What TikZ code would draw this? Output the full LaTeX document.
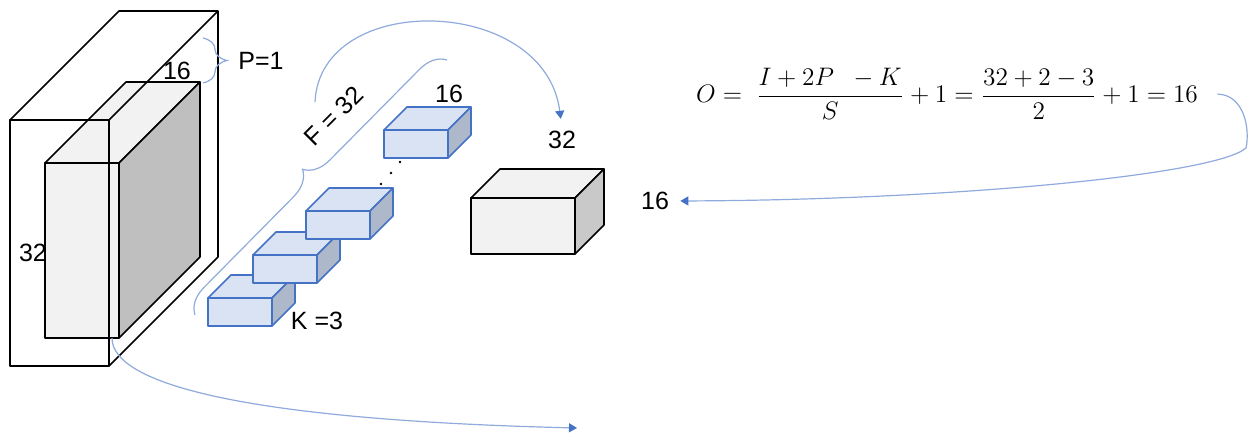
\documentclass[tikz,border=0pt]{standalone}
\usepackage{amsmath}
\usepackage{fontspec}
\setmainfont{Liberation Sans}
\usetikzlibrary{arrows.meta,decorations.pathreplacing}

\definecolor{lineblue}{HTML}{8FAADC}
\definecolor{tipblue}{HTML}{4472C4}
\definecolor{filterfill}{HTML}{DAE3F3}
\definecolor{filterside}{HTML}{ADB9CA}
\definecolor{facegray}{HTML}{F2F2F2}
\definecolor{sidegray}{HTML}{BFBFBF}
\definecolor{outgray}{HTML}{C9C9C9}

\tikzset{
  lbl/.style={font=\fontsize{12.5}{15}\selectfont, inner sep=1pt},
  link/.style={lineblue, line width=0.6pt, -{Triangle[length=4pt,width=4.5pt,color=tipblue]}},
  curly/.style={lineblue, line width=0.6pt, decorate, decoration={brace,amplitude=#1}},
  edge/.style={black, line width=0.8pt, line join=round},
  filter/.style={draw=tipblue, line width=0.8pt, line join=round},
}

\begin{document}
\begin{tikzpicture}[x=0.5pt,y=-0.5pt]
            \useasboundingbox (0,0) rectangle (1248,434);
            % input 32x32 with padding around it
            \filldraw[edge,fill=facegray] (45,163) rectangle (119,338);
            \filldraw[edge,fill=facegray] (45,163) -- (126,82) -- (200,82) -- (119,163) -- cycle;
            \filldraw[edge,fill=sidegray] (119,163) -- (200,82) -- (200,257) -- (119,338) -- cycle;
            \draw[edge] (10,120) rectangle (109,366);
            \draw[edge] (10,120) -- (119,11) -- (218,11) -- (109,120);
            \draw[edge] (218,11) -- (218,257) -- (109,366);
            \node[lbl] (insize) at (33,253) {32};
            \node[lbl] (indepth) at (177,71) {16};
            \draw[curly=12pt] (203,38) -- (203,83);
            \node[lbl] (pad) at (261,61) {P=1};
            % filters
            \foreach \x/\y in {208/326, 253/283, 306/239, 384/158} {
              \filldraw[filter,fill=filterfill] (\x,\y) rectangle ++(64,-28);
              \filldraw[filter,fill=filterfill] (\x,\y-28) -- ++(23,-23) -- ++(64,0) -- ++(-23,23) -- cycle;
              \filldraw[filter,fill=filterside] (\x+64,\y) -- ++(0,-28) -- ++(23,-23) -- ++(0,28) -- cycle;
            }
            \foreach \x/\y in {400/162, 391/173, 381/184} \fill (\x,\y) circle (0.7pt);
            \node[lbl] (kdepth) at (449,94) {16};
            \node[lbl] (ksize) at (317,321) {K =3};
            \node[lbl,rotate=45] (nfilt) at (334,116) {F = 32};
            \draw[curly=13pt] (195,315) -- (447,60);
            % output
            \filldraw[edge,fill=facegray] (471,254) rectangle ++(104,-56);
            \filldraw[edge,fill=facegray] (471,198) -- ++(29,-29) -- ++(104,0) -- ++(-29,29) -- cycle;
            \filldraw[edge,fill=outgray] (575,254) -- ++(0,-56) -- ++(29,-29) -- ++(0,56) -- cycle;
            \node[lbl] (outdepth) at (562,140) {32};
            \node[lbl] (outsize) at (655,201) {16};
            \node[font=\fontsize{12}{14}\selectfont,scale=1.055] (formula) at (947,94)
              {$O =\ \dfrac{I + 2P\ \ - K}{S} + 1 = \dfrac{32 + 2 - 3}{2} + 1 = 16$};
            \coordinate (fstart) at (315,102);
            \coordinate (inbottom) at (112,338);
            \coordinate (outfree) at (577,428);
            \draw[link,shorten >=5pt] (fstart) .. controls (320,-10) and (545,-5) .. (outdepth.north);
            \draw[link,shorten >=4.5pt] ([xshift=6pt]formula.east) .. controls (1245,95) and (1250,130) .. (1246,148)
              .. controls (1215,175) and (950,200) .. (outsize.east);
            \draw[link] (inbottom) .. controls (112,385) and (250,420) .. (outfree);
        \end{tikzpicture}
\end{document}
